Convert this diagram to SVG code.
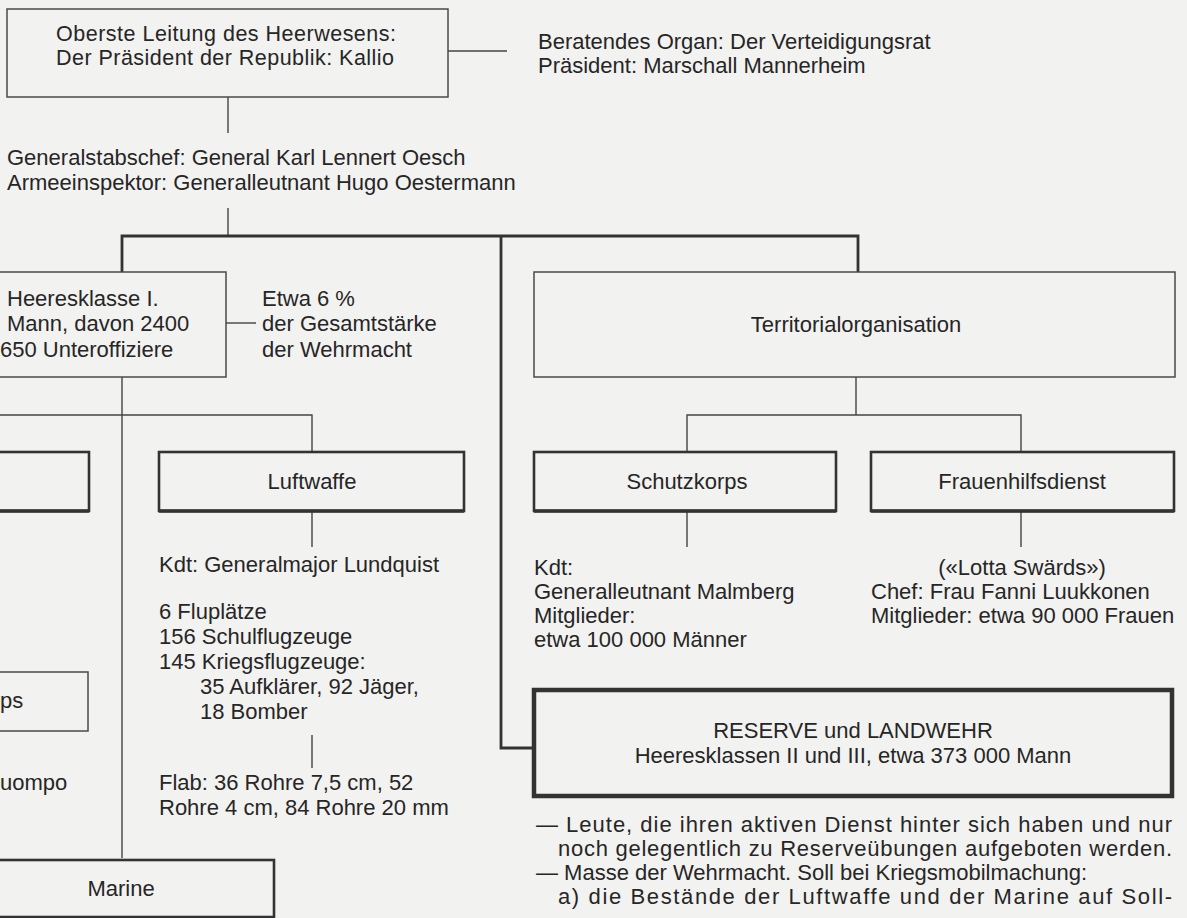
<svg xmlns="http://www.w3.org/2000/svg" width="1187" height="918" viewBox="0 0 1187 918">
<style>
text{font-family:"Liberation Sans","Arial",sans-serif;font-size:22px;fill:#262626}
.c{text-anchor:middle}
.s{font-size:21.5px}
.thin{fill:none;stroke:#4a4a4a;stroke-width:1.5}
.bold{fill:none;stroke:#333;stroke-width:2.6}
.base{stroke:#333;stroke-width:3.6;fill:none}
.heavy{fill:none;stroke:#333;stroke-width:4.5}
.ln{stroke:#444;stroke-width:1.4;fill:none}
.bus{stroke:#333;stroke-width:2.8;fill:none}
</style>
<rect width="1187" height="918" fill="#f2f2f0"/>

<g id="connectors">
<line class="ln" x1="448" y1="51" x2="507" y2="51"/>
<line class="ln" x1="228" y1="97" x2="228" y2="133"/>
<line class="ln" x1="228" y1="208" x2="228" y2="236"/>
<polyline class="bus" points="122,272 122,236 858,236 858,272"/>
<polyline class="bus" points="501,236 501,748 533,748"/>
<line class="ln" x1="226" y1="323" x2="256" y2="323"/>
<line class="ln" x1="122" y1="377" x2="122" y2="858"/>
<polyline class="ln" points="-2,415 312,415 312,452"/>
<line class="ln" x1="312" y1="511" x2="312" y2="547"/>
<line class="ln" x1="312" y1="735" x2="312" y2="768"/>
<line class="ln" x1="856" y1="377" x2="856" y2="415"/>
<polyline class="ln" points="687,452 687,415 1021,415 1021,452"/>
<line class="ln" x1="687" y1="511" x2="687" y2="547"/>
<line class="ln" x1="1021" y1="511" x2="1021" y2="547"/>
</g>

<g id="leitung">
<rect class="thin" x="7" y="9" width="441" height="88"/>
<text class="s" x="56" y="41" textLength="340">Oberste Leitung des Heerwesens:</text>
<text class="s" x="56" y="65" textLength="338">Der Präsident der Republik: Kallio</text>
</g>

<g id="verteidigungsrat">
<text x="538" y="49">Beratendes Organ: Der Verteidigungsrat</text>
<text x="538" y="73">Präsident: Marschall Mannerheim</text>
</g>

<g id="generalstab">
<text x="7" y="165">Generalstabschef: General Karl Lennert Oesch</text>
<text x="7" y="190">Armeeinspektor: Generalleutnant Hugo Oestermann</text>
</g>

<g id="heeresklasse">
<rect class="thin" x="-2" y="272" width="228" height="105"/>
<text x="7" y="306">Heeresklasse I.</text>
<text x="7" y="331">Mann, davon 2400</text>
<text x="0" y="357">650 Unteroffiziere</text>
</g>

<g id="anteil">
<text x="262" y="306">Etwa 6 %</text>
<text x="262" y="331">der Gesamtstärke</text>
<text x="262" y="357">der Wehrmacht</text>
</g>

<g id="territorial">
<rect class="thin" x="534" y="272" width="641" height="105"/>
<text class="c" x="856" y="332">Territorialorganisation</text>
</g>

<g id="heer">
<rect class="bold" x="-5" y="452" width="94" height="59"/>
<line class="base" x1="-5" y1="511" x2="89" y2="511"/>
</g>

<g id="luftwaffe">
<rect class="bold" x="159" y="452" width="305" height="59"/>
<line class="base" x1="159" y1="511" x2="464" y2="511"/>
<text class="c" x="312" y="489">Luftwaffe</text>
</g>

<g id="luftwaffe-details">
<text x="159" y="572">Kdt: Generalmajor Lundquist</text>
<text x="159" y="619">6 Fluplätze</text>
<text x="159" y="644">156 Schulflugzeuge</text>
<text x="159" y="669">145 Kriegsflugzeuge:</text>
<text x="200" y="694">35 Aufklärer, 92 Jäger,</text>
<text x="200" y="719">18 Bomber</text>
<text x="159" y="790">Flab: 36 Rohre 7,5 cm, 52</text>
<text x="159" y="815">Rohre 4 cm, 84 Rohre 20 mm</text>
</g>

<g id="korps">
<rect class="thin" x="-3" y="672" width="91" height="59"/>
<text x="0" y="708">ps</text>
</g>

<g id="korps-details">
<text x="0" y="790">uompo</text>
</g>

<g id="marine">
<rect class="bold" x="-5" y="860" width="279" height="57"/>
<text class="c" x="121" y="896">Marine</text>
</g>

<g id="schutzkorps">
<rect class="bold" x="534" y="452" width="302" height="59"/>
<line class="base" x1="534" y1="511" x2="836" y2="511"/>
<text class="c" x="687" y="489">Schutzkorps</text>
</g>

<g id="schutzkorps-details">
<text x="534" y="575">Kdt:</text>
<text x="534" y="599">Generalleutnant Malmberg</text>
<text x="534" y="623">Mitglieder:</text>
<text x="534" y="647">etwa 100 000 Männer</text>
</g>

<g id="frauenhilfsdienst">
<rect class="bold" x="871" y="452" width="303" height="59"/>
<line class="base" x1="871" y1="511" x2="1174" y2="511"/>
<text class="c" x="1022" y="489">Frauenhilfsdienst</text>
</g>

<g id="frauenhilfsdienst-details">
<text class="c" x="1022" y="575">(«Lotta Swärds»)</text>
<text x="871" y="599">Chef: Frau Fanni Luukkonen</text>
<text x="871" y="623">Mitglieder: etwa 90 000 Frauen</text>
</g>

<g id="reserve">
<rect class="heavy" x="534" y="690" width="638" height="106"/>
<text class="c" x="853" y="738">RESERVE und LANDWEHR</text>
<text class="c" x="853" y="763">Heeresklassen II und III, etwa 373 000 Mann</text>
</g>

<g id="reserve-notes">
<text x="536" y="832" textLength="636">— Leute, die ihren aktiven Dienst hinter sich haben und nur</text>
<text x="558" y="856" textLength="614">noch gelegentlich zu Reserveübungen aufgeboten werden.</text>
<text x="536" y="880">— Masse der Wehrmacht. Soll bei Kriegsmobilmachung:</text>
<text x="558" y="904" textLength="614">a) die Bestände der Luftwaffe und der Marine auf Soll-</text>
</g>
</svg>
